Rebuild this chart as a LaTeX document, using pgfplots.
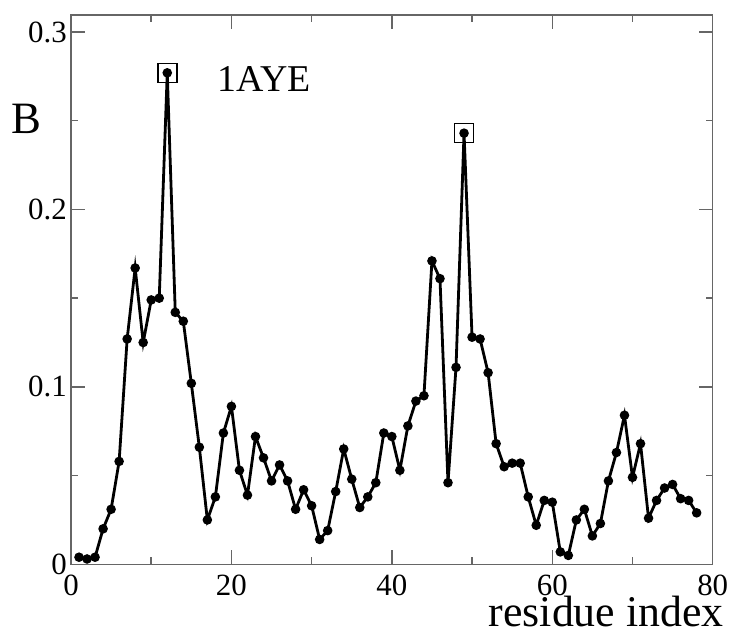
\documentclass[border=0pt]{standalone}
\usepackage{fontspec}
\setmainfont{Liberation Serif}
\usepackage{pgfplots}
\pgfplotsset{compat=1.18}
\begin{document}
\begin{tikzpicture}
\useasboundingbox (-71bp,-66.7bp) rectangle (660bp,564.3bp);
\begin{axis}[
  at={(0,0)}, anchor=south west,
  scale only axis, width=641.7bp, height=549.3bp,
  xmin=0, xmax=80, ymin=0, ymax=0.3096,
  xtick={0,20,40,60,80}, minor x tick num=1,
  ytick={0,0.1,0.2,0.3}, minor y tick num=1,
  tick align=inside,
  major tick length=14bp, minor tick length=7bp,
  axis line style={black!60, line width=1.5bp},
  every tick/.style={black!60, line width=1.5bp},
  /pgf/number format/assume math mode=true,
  tick label style={font=\fontsize{31}{31}\selectfont, inner sep=0bp, text=black},
  xticklabel style={yshift=-10bp},
  yticklabel style={xshift=-4bp},
  xlabel={residue index},
  xlabel style={at={(axis description cs:0.834,0)}, anchor=base, inner sep=0bp, yshift=-62.5bp, font=\fontsize{44}{44}\selectfont},
  ylabel={B},
  ylabel style={at={(axis description cs:-0.070,0.785)}, anchor=base, inner sep=0bp, rotate=-90, font=\fontsize{45}{45}\selectfont},
]
\addplot[black, line width=2.8bp, mark=*, mark size=3.3bp] coordinates {
(1,0.004) (2,0.003) (3,0.004) (4,0.020) (5,0.031) (6,0.058) (7,0.127) (8,0.167)
(9,0.125) (10,0.149) (11,0.150) (12,0.277) (13,0.142) (14,0.137) (15,0.102) (16,0.066)
(17,0.025) (18,0.038) (19,0.074) (20,0.089) (21,0.053) (22,0.039) (23,0.072) (24,0.060)
(25,0.047) (26,0.056) (27,0.047) (28,0.031) (29,0.042) (30,0.033) (31,0.014) (32,0.019)
(33,0.041) (34,0.065) (35,0.048) (36,0.032) (37,0.038) (38,0.046) (39,0.074) (40,0.072)
(41,0.053) (42,0.078) (43,0.092) (44,0.095) (45,0.171) (46,0.161) (47,0.046) (48,0.111)
(49,0.243) (50,0.128) (51,0.127) (52,0.108) (53,0.068) (54,0.055) (55,0.057) (56,0.057)
(57,0.038) (58,0.022) (59,0.036) (60,0.035) (61,0.007) (62,0.005) (63,0.025) (64,0.031)
(65,0.016) (66,0.023) (67,0.047) (68,0.063) (69,0.084) (70,0.049) (71,0.068) (72,0.026)
(73,0.036) (74,0.043) (75,0.045) (76,0.037) (77,0.036) (78,0.029)
};
\addplot[only marks, mark=square, mark size=9.5bp, mark options={black, line width=1.6bp}] coordinates {
(12,0.277) (49,0.243)
};
\node[anchor=base, font=\fontsize{38}{38}\selectfont] at (axis description cs:0.301,0.860) {1AYE};
\end{axis}
\end{tikzpicture}
\end{document}
